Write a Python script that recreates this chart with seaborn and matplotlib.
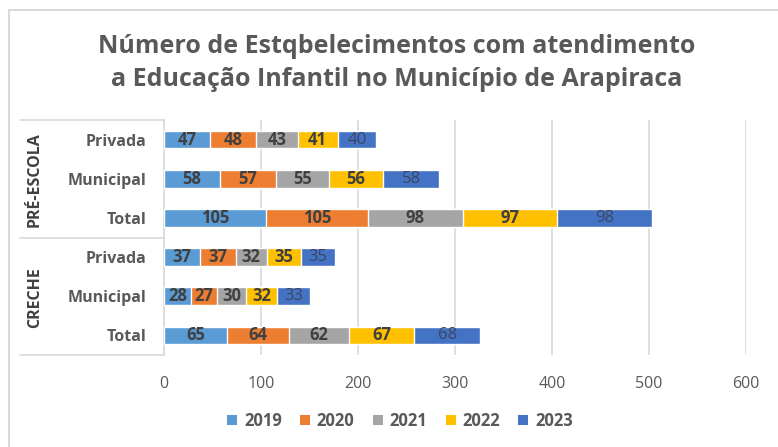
import matplotlib
matplotlib.use("Agg")
import matplotlib.pyplot as plt
from matplotlib.lines import Line2D
from matplotlib.patches import Patch
import seaborn as sns
import pandas as pd
import numpy as np

# ---- data ----
groups = ["PRÉ-ESCOLA", "PRÉ-ESCOLA", "PRÉ-ESCOLA", "CRECHE", "CRECHE", "CRECHE"]
subcats = ["Privada", "Municipal", "Total", "Privada", "Municipal", "Total"]
years = ["2019", "2020", "2021", "2022", "2023"]
v2019 = [47, 58, 105, 37, 28, 65]
v2020 = [48, 57, 105, 37, 27, 64]
v2021 = [43, 55, 98, 32, 30, 62]
v2022 = [41, 56, 97, 35, 32, 67]
v2023 = [40, 58, 98, 35, 33, 68]
colors = ["#5B9BD5", "#ED7D31", "#A5A5A5", "#FFC000", "#4472C4"]
title = "Número de Estqbelecimentos com atendimento\na Educação Infantil no Município de Arapiraca"
xticks = [0, 100, 200, 300, 400, 500, 600]

series = [v2019, v2020, v2021, v2022, v2023]
keys = [f"{g}|{s}" for g, s in zip(groups, subcats)]

sns.set_theme(style="white")
plt.rcParams["font.family"] = ["Open Sans", "DejaVu Sans"]

W, H = 778, 447
fig = plt.figure(figsize=(W / 100, H / 100), dpi=100)

def fx(px):
    return px / W

def fy(py):
    return 1 - py / H

ax_l, ax_r, ax_t, ax_b = 164, 746, 120, 355
ax = fig.add_axes([fx(ax_l), fy(ax_b), fx(ax_r - ax_l), (ax_b - ax_t) / H])

vals = np.array(series)  # shape (5, 6)
cum = np.cumsum(vals, axis=0)

# draw stacked bars as overlapping cumulative bars (largest first)
for i in range(len(years) - 1, -1, -1):
    df = pd.DataFrame({"key": keys, "value": cum[i]})
    sns.barplot(data=df, x="value", y="key", order=keys, color=colors[i],
                width=0.45, orient="h", saturation=1, ax=ax, zorder=3)

# labels
for i in range(len(years)):
    for j in range(len(keys)):
        start = cum[i][j] - vals[i][j]
        center = start + vals[i][j] / 2
        if i == 4:
            ax.text(center, j, str(vals[i][j]), ha="center", va="center",
                    fontsize=12, color="#3B4660", fontweight="normal", zorder=5)
        else:
            ax.text(center, j, str(vals[i][j]), ha="center", va="center",
                    fontsize=12, color="#404040", fontweight="bold", zorder=5)

ax.set_xlim(0, 600)
ax.set_ylim(len(keys) - 0.5, -0.5)
ax.set_xticks(xticks)
ax.set_xticklabels([str(t) for t in xticks], fontsize=11.5, color="#595959")
ax.set_yticks(range(len(keys)))
ax.set_yticklabels(subcats, fontsize=11.5, color="#595959", fontweight="bold")
ax.tick_params(axis="x", length=0, pad=15)
ax.tick_params(axis="y", length=0, pad=13)
ax.set_xlabel("")
ax.set_ylabel("")
ax.grid(axis="x", color="#D9D9D9", linewidth=1.2, zorder=0)
ax.set_axisbelow(True)
for s in ["top", "right", "bottom"]:
    ax.spines[s].set_visible(False)
ax.spines["left"].set_color("#D9D9D9")
ax.spines["left"].set_linewidth(1.2)

# group separator lines
for py in [120, 238, 355]:
    fig.add_artist(Line2D([fx(20), fx(164)], [fy(py), fy(py)], color="#D9D9D9", lw=1.2))

# group labels
fig.text(fx(35), fy(180), "PRÉ-ESCOLA", rotation=90, ha="center", va="center",
         fontsize=11.5, fontweight="bold", color="#404040")
fig.text(fx(35), fy(298), "CRECHE", rotation=90, ha="center", va="center",
         fontsize=11.5, fontweight="bold", color="#404040")

# title
fig.text(fx(397), fy(63), title, ha="center", va="center", fontsize=18,
         fontweight="bold", color="#595959", linespacing=1.38)

# chart border
fig.add_artist(Line2D([fx(9), fx(9)], [fy(10), 0], color="#D9D9D9", lw=1.5))
fig.add_artist(Line2D([fx(9), 1], [fy(10), fy(10)], color="#D9D9D9", lw=1.5))

# legend
handles = [Patch(facecolor=c, edgecolor="none") for c in colors]
leg = fig.legend(handles, years, loc="center", bbox_to_anchor=(fx(400), fy(421)),
                 ncol=5, frameon=False, handlelength=0.6, handleheight=0.6,
                 handletextpad=0.4, columnspacing=1.1,
                 prop={"size": 12, "weight": "bold"})
for t in leg.get_texts():
    t.set_color("#595959")

fig.savefig("out.png", dpi=100)
